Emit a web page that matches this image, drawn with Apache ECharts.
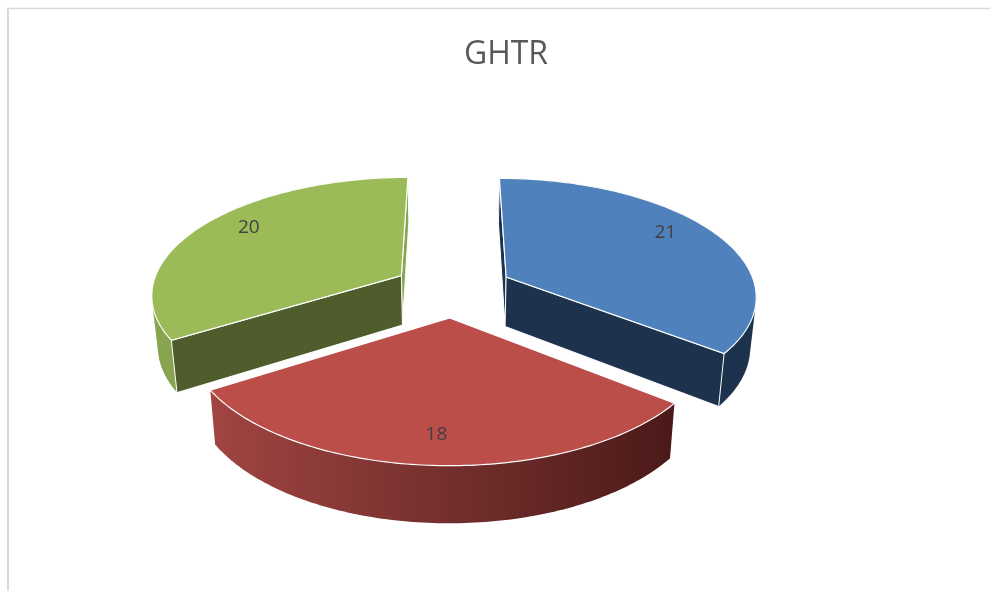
<!DOCTYPE html>
<html>
<head>
<meta charset="utf-8">
<style>
  html, body { margin: 0; padding: 0; background: #fff; }
  #main { width: 990px; height: 591px; }
</style>
<script src="https://cdn.jsdelivr.net/npm/echarts@6/dist/echarts.min.js"></script>
</head>
<body>
<div id="main"></div>
<script>
// values, clockwise from 12 o'clock
const sliceValues = [21, 18, 20];
const chartTitle = 'GHTR';

// colours per slice
const topColors = ['#4f81bd', '#bc4e4a', '#9bbb59'];
const wallColors = ['#1d324d', '#5a2220', '#4e5d2b'];
const arcColors = [
    ['#1d324d', '#1d324d'],
    ['#a04542', '#4a1a18'],
    ['#88a44e', '#88a44e']
];
const farWallColors = ['#1d324d', '#5a2220', '#8aa651'];
// small turn of the data label away from the slice middle, in degrees
const labelTurn = [-5, 0, 5];

// perspective of the pie plane, fitted to the picture
const centerX = 453;
const horizonY = -500;
const radiusX = 250;
const depthScale = 789;
const depthK = 0.1476;
const thickness = 50;
const thicknessPower = 0.7;
const bottomShrink = 0.98;
const explode = 0.24;
const labelRadius = 0.815;
const edgeColor = '#ffffff';

const total = sliceValues.reduce((a, b) => a + b, 0);

function toRad(deg) {
    return deg * Math.PI / 180;
}

// plane point to screen, level 0 is the top face and 1 the bottom face
function project(px, py, level) {
    const w = 1 + depthK * py;
    const x = radiusX * px / w;
    const y = horizonY + depthScale / w;
    if (level) {
        return [centerX + x * bottomShrink, y + thickness / Math.pow(w, thicknessPower)];
    }
    return [centerX + x, y];
}

// convex outline of the wall, the part under the top face is covered anyway
function outline(points) {
    const sorted = points.slice().sort((a, b) => a[0] - b[0] || a[1] - b[1]);
    const cross = (o, a, b) => (a[0] - o[0]) * (b[1] - o[1]) - (a[1] - o[1]) * (b[0] - o[0]);
    const half = list => {
        const out = [];
        list.forEach(p => {
            while (out.length > 1 && cross(out[out.length - 2], out[out.length - 1], p) <= 0) {
                out.pop();
            }
            out.push(p);
        });
        out.pop();
        return out;
    };
    return half(sorted).concat(half(sorted.slice().reverse()));
}

function renderSlice(params, api) {
    const i = params.dataIndex;
    const value = api.value(0);
    let before = 0;
    for (let n = 0; n < i; n++) {
        before += sliceValues[n];
    }
    const start = before / total * 360;
    const end = start + value / total * 360;
    const mid = (start + end) / 2;
    const ox = explode * Math.sin(toRad(mid));
    const oy = explode * Math.cos(toRad(mid));

    const topArc = [];
    const bottomArc = [];
    const steps = Math.ceil(end - start);
    for (let s = 0; s <= steps; s++) {
        const a = toRad(start + (end - start) * s / steps);
        const px = ox + Math.sin(a);
        const py = oy + Math.cos(a);
        topArc.push(project(px, py, 0));
        bottomArc.push(project(px, py, 1));
    }
    const apexTop = project(ox, oy, 0);
    const apexBottom = project(ox, oy, 1);

    const xs = topArc.map(p => p[0]);
    const arcFill = new echarts.graphic.LinearGradient(
        Math.min(...xs), 0, Math.max(...xs), 0,
        [
            { offset: 0, color: arcColors[i][0] },
            { offset: 1, color: arcColors[i][1] }
        ],
        true
    );

    const children = [
        {
            type: 'polygon',
            shape: { points: outline(topArc.concat(bottomArc)) },
            style: { fill: arcFill }
        }
    ];

    // the slice at the front shows no radial walls
    if (!(start < 180 && end > 180)) {
        const isLeft = mid > 180;
        const nearEnd = isLeft ? 0 : topArc.length - 1;
        const farEnd = isLeft ? topArc.length - 1 : 0;
        children.push({
            type: 'polygon',
            shape: { points: [apexTop, topArc[farEnd], bottomArc[farEnd], apexBottom] },
            style: { fill: farWallColors[i], stroke: edgeColor, lineWidth: 1 }
        });
        children.push({
            type: 'polygon',
            shape: { points: [apexTop, topArc[nearEnd], bottomArc[nearEnd], apexBottom] },
            style: { fill: wallColors[i], stroke: edgeColor, lineWidth: 1 }
        });
    }

    children.push({
        type: 'polygon',
        shape: { points: [apexTop].concat(topArc) },
        style: { fill: topColors[i], stroke: edgeColor, lineWidth: 1.2 }
    });

    const la = toRad(mid + labelTurn[i]);
    const labelPoint = project(
        ox + labelRadius * Math.sin(la),
        oy + labelRadius * Math.cos(la),
        0
    );
    children.push({
        type: 'text',
        style: {
            text: String(value),
            x: labelPoint[0],
            y: labelPoint[1],
            align: 'center',
            verticalAlign: 'middle',
            fill: '#404040',
            font: '19px "Open Sans"'
        }
    });

    return { type: 'group', children: children };
}

const myChart = echarts.init(document.getElementById('main'));

myChart.setOption({
    animation: false,
    backgroundColor: '#ffffff',
    title: {
        text: chartTitle,
        left: 501,
        top: 34,
        textAlign: 'center',
        textStyle: {
            color: '#595959',
            fontFamily: 'Open Sans',
            fontWeight: 'normal',
            fontSize: 32
        }
    },
    graphic: [
        {
            type: 'line',
            shape: { x1: 8, y1: 8, x2: 8, y2: 591 },
            style: { stroke: '#d9d9d9', lineWidth: 2 }
        },
        {
            type: 'line',
            shape: { x1: 7, y1: 8.5, x2: 990, y2: 8.5 },
            style: { stroke: '#d9d9d9', lineWidth: 1.5 }
        }
    ],
    series: [{
        type: 'custom',
        coordinateSystem: 'none',
        silent: true,
        renderItem: renderSlice,
        data: sliceValues.map(v => [v])
    }]
});

window.addEventListener('resize', () => {
    myChart.resize();
});
</script>
</body>
</html>
